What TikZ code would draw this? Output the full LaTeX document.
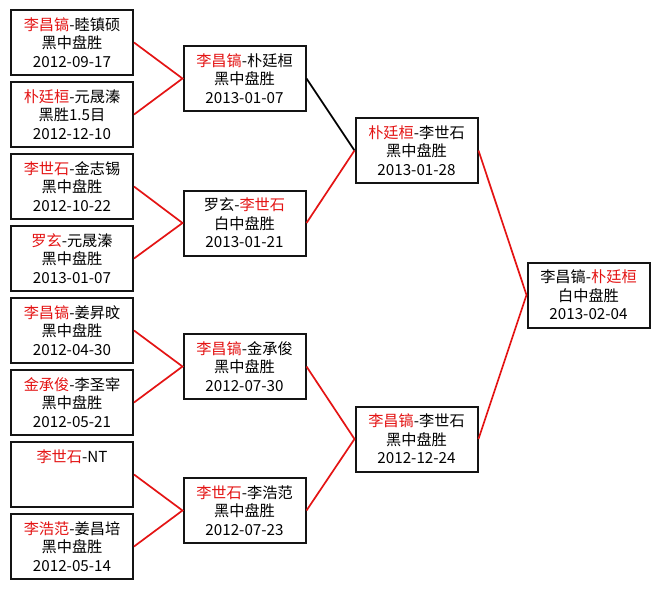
\documentclass[tikz,border=0pt]{standalone}
\usepackage{fontspec}
\setmainfont{Noto Sans CJK SC}
\usepackage{xcolor}
\definecolor{gored}{RGB}{228,20,20}
\definecolor{goframe}{RGB}{20,20,20}
\usetikzlibrary{positioning}
\newcommand{\winner}[1]{\textcolor{gored}{#1}}

\begin{document}
\begin{tikzpicture}[
  x=1pt,y=-1pt,
  every node/.style={font=\fontsize{15.2}{18.5}\selectfont},
  gamebox/.style={draw=goframe,line width=2pt,minimum width=122pt,minimum height=65pt,
                  align=center,inner sep=2pt,fill=white},
  winline/.style={draw=gored,line width=1.7pt},
  loseline/.style={draw=black,line width=1.7pt},
]
  \useasboundingbox[fill=white] (0,0) rectangle (660,589);

  % Round 1
  \node[gamebox] (r1a) at (72,42.5)
    {\winner{李昌镐}-睦镇硕\\黑中盘胜\\2012-09-17};
  \node[gamebox] (r1b) at (72,114.5)
    {\winner{朴廷桓}-元晟溱\\黑胜1.5目\\2012-12-10};
  \node[gamebox] (r1c) at (72,186.5)
    {\winner{李世石}-金志锡\\黑中盘胜\\2012-10-22};
  \node[gamebox] (r1d) at (72,258.5)
    {\winner{罗玄}-元晟溱\\黑中盘胜\\2013-01-07};
  \node[gamebox] (r1e) at (72,330.5)
    {\winner{李昌镐}-姜昇旼\\黑中盘胜\\2012-04-30};
  \node[gamebox] (r1f) at (72,402.5)
    {\winner{金承俊}-李圣宰\\黑中盘胜\\2012-05-21};
  \node[gamebox] (r1g) at (72,474.5)
    {\winner{李世石}-NT\\\phantom{黑中盘胜}\\\phantom{2012-05-14}};
  \node[gamebox] (r1h) at (72,546.5)
    {\winner{李浩范}-姜昌培\\黑中盘胜\\2012-05-14};

  % Round 2
  \node[gamebox] (r2a) at (244.5,78.5)
    {\winner{李昌镐}-朴廷桓\\黑中盘胜\\2013-01-07};
  \node[gamebox] (r2b) at (244.5,223)
    {罗玄-\winner{李世石}\\白中盘胜\\2013-01-21};
  \node[gamebox] (r2c) at (244.5,366.5)
    {\winner{李昌镐}-金承俊\\黑中盘胜\\2012-07-30};
  \node[gamebox] (r2d) at (244.5,510.5)
    {\winner{李世石}-李浩范\\黑中盘胜\\2012-07-23};

  % Semi finals
  \node[gamebox] (r3a) at (416.5,150.5)
    {\winner{朴廷桓}-李世石\\黑中盘胜\\2013-01-28};
  \node[gamebox] (r3b) at (416.5,439)
    {\winner{李昌镐}-李世石\\黑中盘胜\\2012-12-24};

  % Final
  \node[gamebox] (fin) at (588.5,295)
    {李昌镐-\winner{朴廷桓}\\白中盘胜\\2013-02-04};

  % Connectors
  \draw[winline] (r1a.east) -- (r2a.west) -- (r1b.east);
  \draw[winline] (r1c.east) -- (r2b.west) -- (r1d.east);
  \draw[winline] (r1e.east) -- (r2c.west) -- (r1f.east);
  \draw[winline] (r1g.east) -- (r2d.west) -- (r1h.east);
  \draw[loseline] (r2a.east) -- (r3a.west);
  \draw[winline] (r2b.east) -- (r3a.west);
  \draw[winline] (r2c.east) -- (r3b.west) -- (r2d.east);
  \draw[winline] (r3a.east) -- (fin.west) -- (r3b.east);
\end{tikzpicture}
\end{document}
